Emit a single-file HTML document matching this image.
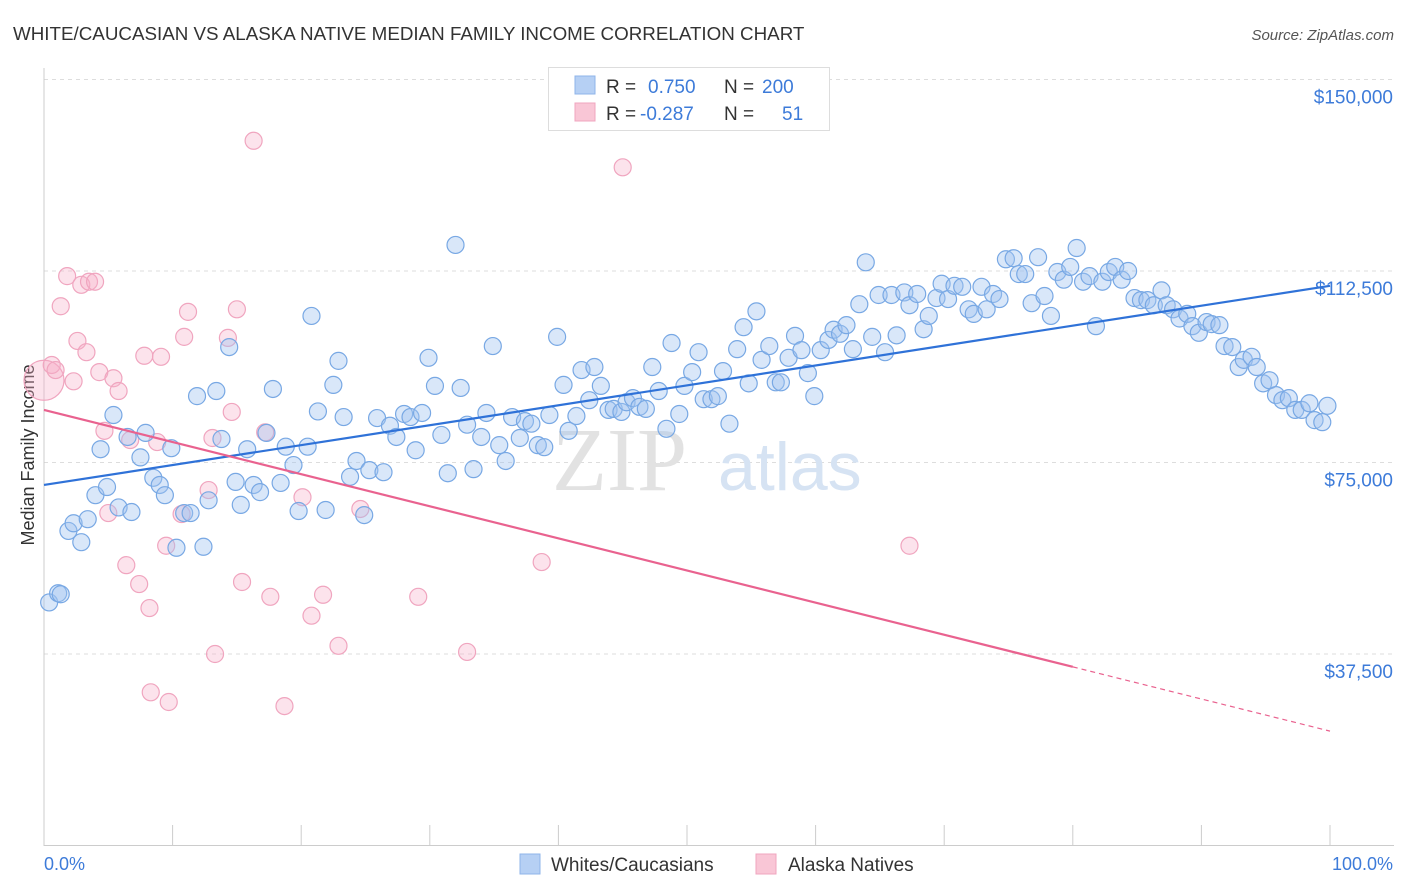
<!DOCTYPE html>
<html><head><meta charset="utf-8"><style>
body{margin:0;background:#fff;font-family:"Liberation Sans",sans-serif;}
svg{display:block}
</style></head><body>
<svg id="chart" width="1406" height="892">
<text x="13" y="40" font-size="18.8" fill="#333">WHITE/CAUCASIAN VS ALASKA NATIVE MEDIAN FAMILY INCOME CORRELATION CHART</text>
<text x="1394" y="40" font-size="15" fill="#555" font-style="italic" text-anchor="end">Source: ZipAtlas.com</text>
<g id="grid"></g>
<g><text x="552" y="490" font-size="90" fill="#e2e2e2" font-family="Liberation Serif,serif">ZIP</text><text x="718" y="490" font-size="68" fill="#d6e3f3">atlas</text></g>
<line x1="44" y1="68" x2="44" y2="846" stroke="#ccc"/>
<line x1="44" y1="845.5" x2="1394" y2="845.5" stroke="#ccc"/>
<g id="xticks"></g>
<g id="ylabels"></g>
<text transform="translate(34,455) rotate(-90)" font-size="18" fill="#333" text-anchor="middle">Median Family Income</text>
<text x="44" y="870" font-size="18" fill="#3d7bd9">0.0%</text>
<text x="1393" y="870" font-size="18" fill="#3d7bd9" text-anchor="end">100.0%</text>
<g id="pink"></g>
<g id="blue"></g>
<g id="trends"></g>
<g>
<rect x="548.5" y="67.5" width="281" height="63" fill="#fff" stroke="#ddd"/>
<rect x="575" y="76" width="20" height="18" fill="#b6d0f4" stroke="#8fb4ea"/>
<rect x="575" y="103" width="20" height="18" fill="#f9c6d6" stroke="#f0a5bf"/>
<text x="606" y="93" font-size="19" fill="#333">R = </text><text x="648" y="93" font-size="19" fill="#3d7bd9">0.750</text>
<text x="724" y="93" font-size="19" fill="#333">N = </text><text x="762" y="93" font-size="19" fill="#3d7bd9">200</text>
<text x="606" y="120" font-size="19" fill="#333">R = </text><text x="640" y="120" font-size="19" fill="#3d7bd9">-0.287</text>
<text x="724" y="120" font-size="19" fill="#333">N = </text><text x="782" y="120" font-size="19" fill="#3d7bd9">51</text>
</g>
<g>
<rect x="520" y="854" width="20" height="20" fill="#b6d0f4" stroke="#8fb4ea"/>
<text x="551" y="871" font-size="19" fill="#333">Whites/Caucasians</text>
<rect x="756" y="854" width="20" height="20" fill="#f9c6d6" stroke="#f0a5bf"/>
<text x="788" y="871" font-size="19" fill="#333">Alaska Natives</text>
</g>
</svg>
<script>
const yTicks=[37500,75000,112500,150000];
const yTickLabels=["$37,500","$75,000","$112,500","$150,000"];
const xTicks=[0,10,20,30,40,50,60,70,80,90,100];
const blueX=[0.4,1.1,1.3,1.9,2.3,2.9,3.4,4.0,4.4,4.9,5.4,5.8,6.5,6.8,7.5,7.9,8.5,9.0,9.4,9.9,10.3,10.9,11.4,11.9,12.4,12.8,13.4,13.8,14.4,14.9,15.3,15.8,16.3,16.8,17.3,17.8,18.4,18.8,19.4,19.8,20.5,20.8,21.3,21.9,22.5,22.9,23.3,23.8,24.3,24.9,25.3,25.9,26.4,26.9,27.4,28.0,28.5,28.9,29.4,29.9,30.4,30.9,31.4,32.0,32.4,32.9,33.4,34.0,34.4,34.9,35.4,35.9,36.4,37.0,37.4,37.9,38.4,38.9,39.3,39.9,40.4,40.8,41.4,41.8,42.4,42.8,43.3,43.9,44.3,44.9,45.3,45.8,46.3,46.8,47.3,47.8,48.4,48.8,49.4,49.8,50.4,50.9,51.3,51.9,52.4,52.8,53.3,53.9,54.4,54.8,55.4,55.8,56.4,56.9,57.3,57.9,58.4,58.9,59.4,59.9,60.4,61.0,61.4,61.9,62.4,62.9,63.4,63.9,64.4,64.9,65.4,65.9,66.3,66.9,67.3,67.9,68.4,68.8,69.4,69.8,70.3,70.8,71.4,71.9,72.3,72.9,73.3,73.8,74.3,74.8,75.4,75.8,76.3,76.8,77.3,77.8,78.3,78.8,79.3,79.8,80.3,80.8,81.3,81.8,82.3,82.8,83.3,83.8,84.3,84.8,85.3,85.8,86.3,86.9,87.3,87.8,88.3,88.9,89.3,89.8,90.4,90.8,91.4,91.8,92.4,92.9,93.3,93.9,94.3,94.8,95.3,95.8,96.3,96.8,97.3,97.8,98.4,98.8,99.4,99.8];
const blueY=[47.6,49.4,49.2,61.6,63.1,59.4,63.9,68.6,77.6,70.2,84.3,66.2,80.0,65.3,76.0,80.8,72.0,70.6,68.6,77.8,58.3,65.1,65.1,88.0,58.5,67.6,89.0,79.6,97.6,71.2,66.7,77.6,70.6,69.2,80.8,89.4,71.0,78.1,74.5,65.5,78.1,103.7,85.0,65.7,90.2,94.9,83.9,72.2,75.3,64.7,73.5,83.7,73.1,82.2,80.0,84.5,83.9,77.4,84.7,95.5,90.0,80.4,72.9,117.6,89.6,82.4,73.7,80.0,84.7,97.8,78.4,75.3,83.9,79.8,83.1,82.6,78.4,78.0,84.3,99.6,90.2,81.2,84.1,93.1,87.2,93.7,90.0,85.3,85.5,84.9,86.8,87.6,85.9,85.5,93.7,89.0,81.6,98.4,84.5,90.0,92.7,96.6,87.4,87.4,88.0,92.9,82.6,97.2,101.5,90.5,104.6,95.1,97.8,90.7,90.7,95.5,99.8,97.0,92.5,88.0,97.0,99.0,101.0,100.2,101.9,97.2,106.0,114.2,99.6,107.8,96.6,107.8,99.9,108.3,105.8,108.0,101.1,103.7,107.2,110.0,107.0,109.6,109.4,105.0,104.1,109.4,105.0,108.0,107.0,114.8,115.0,111.9,111.9,106.2,115.2,107.6,103.7,112.3,110.8,113.3,117.0,110.4,111.5,101.7,110.4,112.3,113.3,110.8,112.5,107.2,106.8,106.8,105.8,108.7,105.8,105.0,103.2,104.1,101.7,100.4,102.5,102.1,101.9,97.8,97.6,93.7,95.1,95.7,93.7,90.5,91.1,88.2,87.2,87.6,85.3,85.3,86.6,83.3,82.9,86.1];
const pinkX=[0,0.6,0.9,1.3,1.8,2.3,2.6,2.9,3.3,3.5,3.97,4.3,4.7,5.0,5.4,5.8,6.4,6.7,7.4,7.8,8.2,8.3,8.8,9.1,9.5,9.7,10.7,10.9,11.2,12.8,13.1,13.3,14.3,14.6,15.0,15.4,16.3,17.2,17.6,18.7,20.1,20.8,21.7,22.9,24.6,29.1,32.9,38.7,45.0,67.3];
const pinkY=[91.1,94.1,93.1,105.6,111.5,90.9,98.8,109.8,96.6,110.4,110.4,92.7,81.2,65.1,91.5,89.0,54.9,79.4,51.2,95.9,46.5,30.0,79.0,95.7,58.7,28.1,64.9,99.6,104.5,69.6,79.8,37.5,99.4,84.9,105.0,51.6,138.0,80.9,48.7,27.3,68.2,45.0,49.1,39.1,65.9,48.7,37.9,55.5,132.8,58.7];
const blueTrend=[70.6,109.6];
const pinkTrend=[85.3,22.4];
const pinkSolidEnd=80;
const NS="http://www.w3.org/2000/svg";
function xs(p){return 44+p*12.86;}
function ys(v){return 845.5-v/37.5*191.5;}
function mk(tag,attrs,parent){const e=document.createElementNS(NS,tag);for(const k in attrs)e.setAttribute(k,attrs[k]);parent.appendChild(e);return e;}
const grid=document.getElementById('grid'),yl=document.getElementById('ylabels'),xt=document.getElementById('xticks');
yTicks.forEach((t,i)=>{
 const y=ys(t/1000);
 const l=mk('line',{x1:44,x2:1394,y1:y,y2:y,stroke:'#ddd','stroke-dasharray':'4,4'},grid);
 
 
 const tx=mk('text',{x:1393,y:y+24,'font-size':19,fill:'#3d7bd9','text-anchor':'end'},yl);
 tx.textContent=yTickLabels[i];
 
 
});
xTicks.forEach(p=>{
 const l=mk('line',{x1:xs(p),x2:xs(p),y1:825,y2:845,stroke:'#ccc'},xt);
 
 
});
const pg=document.getElementById('pink');
pinkX.forEach((x,i)=>{
 const c=mk('circle',{cx:xs(x),cy:ys(pinkY[i]),r:i===0?20:8.5,fill:'rgba(246,175,200,0.35)',stroke:'#f0a5bf','stroke-width':1.2},pg);
 
 
});
const bg=document.getElementById('blue');
blueX.forEach((x,i)=>{
 const c=mk('circle',{cx:xs(x),cy:ys(blueY[i]),r:8.5,fill:'rgba(160,196,240,0.4)',stroke:'#78a8e4','stroke-width':1.2},bg);
 
 
});
const tg=document.getElementById('trends');
const bl=mk('line',{x1:xs(0),y1:ys(blueTrend[0]),x2:xs(100),y2:ys(blueTrend[1]),stroke:'#2f72d8','stroke-width':2.2},tg);


const pm=pinkTrend[0]+(pinkTrend[1]-pinkTrend[0])*pinkSolidEnd/100;
const pl=mk('line',{x1:xs(0),y1:ys(pinkTrend[0]),x2:xs(pinkSolidEnd),y2:ys(pm),stroke:'#e9628f','stroke-width':2.2},tg);


const pd=mk('line',{x1:xs(pinkSolidEnd),y1:ys(pm),x2:xs(100),y2:ys(pinkTrend[1]),stroke:'#e9628f','stroke-width':1.2,'stroke-dasharray':'5,4'},tg);


</script>
</body></html>
